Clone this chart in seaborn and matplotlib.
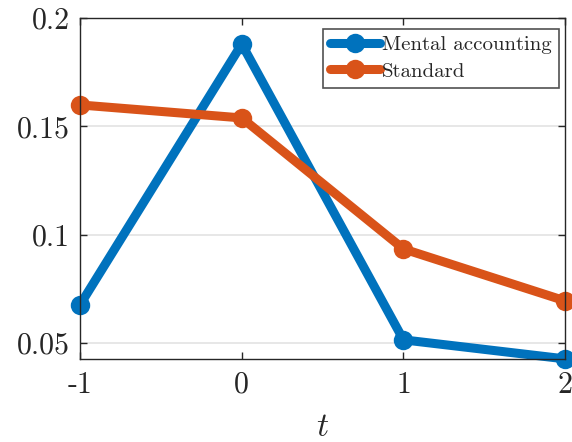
import matplotlib
matplotlib.use("Agg")
import matplotlib.pyplot as plt
import seaborn as sns
import pandas as pd

t = [-1, 0, 1, 2]
mental = [0.0676, 0.1880, 0.0514, 0.0426]
standard = [0.1599, 0.1539, 0.0934, 0.0694]
series_names = ["Mental accounting", "Standard"]
colors = ["#0072BD", "#D95319"]
yticks = [0.05, 0.1, 0.15, 0.2]
ytick_labels = ["0.05", "0.1", "0.15", "0.2"]
xtick_labels = ["-1", "0", "1", "2"]

df = pd.DataFrame({
    "t": t * 2,
    "value": mental + standard,
    "series": [series_names[0]] * 4 + [series_names[1]] * 4,
})

sns.set_theme(style="white")
plt.rcParams["font.family"] = ["serif"]
plt.rcParams["font.serif"] = ["cmr10", "DejaVu Serif"]
plt.rcParams["mathtext.fontset"] = "cm"
plt.rcParams["axes.formatter.use_mathtext"] = True

fig = plt.figure(figsize=(5.72, 4.42), dpi=100)
ax = fig.add_axes([0.14, 0.188, 0.848, 0.771])

sns.lineplot(data=df, x="t", y="value", hue="series", palette=colors,
             marker="o", markersize=14, linewidth=6.5, markeredgewidth=0,
             ax=ax, legend=True)

ax.set_xlim(-1, 2)
ax.set_ylim(0.0426, 0.2)
ax.set_xticks(t)
ax.set_xticklabels(xtick_labels, fontsize=21.5)
ax.set_yticks(yticks)
ax.set_yticklabels(ytick_labels, fontsize=21.5)
ax.set_xlabel("$t$", fontsize=24, labelpad=10)
ax.set_ylabel("")
ax.yaxis.grid(True, color="#e3e3e3", linewidth=1.2)
ax.xaxis.grid(False)
ax.set_axisbelow(True)
for s in ax.spines.values():
    s.set_color("#262626")
    s.set_linewidth(1.0)
ax.tick_params(direction="in", length=5, width=1, color="#262626",
               top=True, right=True, bottom=True, left=True,
               labelcolor="#262626")
ax.tick_params(axis="x", pad=9)
ax.tick_params(axis="y", pad=7)
for c in ax.lines:
    c.set_clip_on(False)

leg = ax.legend(loc="upper right", bbox_to_anchor=(559 / 572, (442 - 29) / 442),
                bbox_transform=fig.transFigure, borderaxespad=0,
                fontsize=15, frameon=True, fancybox=False,
                edgecolor="#262626", borderpad=0.33, handlelength=2.4,
                handletextpad=0.1, labelspacing=0.37)
leg.get_frame().set_linewidth(1.2)

fig.savefig("out.png", dpi=100)
